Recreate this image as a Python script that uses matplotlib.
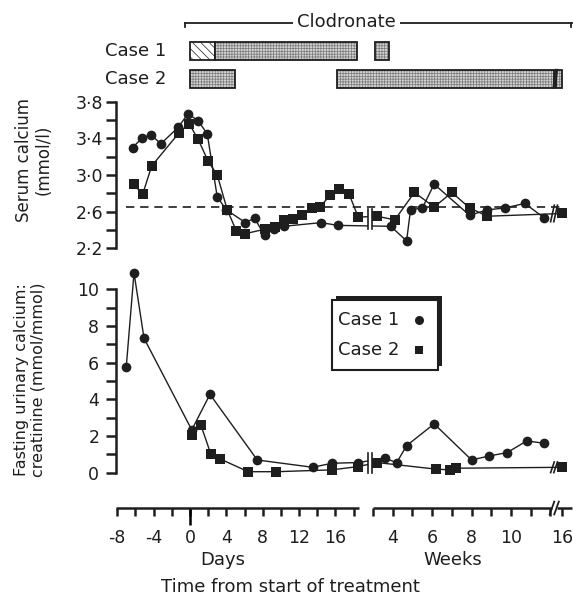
import matplotlib
matplotlib.use('Agg')
import matplotlib.pyplot as plt
from matplotlib.patches import Rectangle

plt.rcParams['font.family'] = 'DejaVu Sans'
plt.rcParams['hatch.linewidth'] = 0.5

W, H = 573, 599
ink = '#1e1e1e'

# serum calcium (mmol/l), case 1 = circles, case 2 = squares
c1_serum_days = [-6.3, -5.3, -4.3, -3.2, -1.3, -0.2, 0.9, 1.9, 3.0, 4.0, 6.1, 7.1, 8.2, 9.2, 10.3, 14.4, 16.3]
c1_serum_dval = [3.30, 3.40, 3.44, 3.34, 3.52, 3.67, 3.59, 3.45, 2.76, 2.62, 2.48, 2.53, 2.34, 2.41, 2.44, 2.48, 2.45]
c1_serum_weeks = [3.9, 4.7, 4.9, 5.5, 6.1, 7.9, 8.8, 9.7, 10.7, 11.7]
c1_serum_wval = [2.44, 2.28, 2.62, 2.64, 2.90, 2.56, 2.62, 2.64, 2.69, 2.53]
c2_serum_days = [-6.2, -5.2, -4.2, -1.2, -0.1, 0.9, 2.0, 3.0, 4.1, 5.1, 6.1, 8.3, 9.3, 10.3, 11.3,
                 12.3, 13.4, 14.3, 15.4, 16.4, 17.5, 18.5]
c2_serum_dval = [2.90, 2.79, 3.10, 3.46, 3.56, 3.39, 3.15, 3.00, 2.62, 2.39, 2.36, 2.41, 2.43, 2.51, 2.52,
                 2.56, 2.64, 2.65, 2.78, 2.85, 2.79, 2.54]
c2_serum_weeks = [3.2, 4.1, 5.1, 6.1, 7.0, 7.9, 8.8, 16]
c2_serum_wval = [2.55, 2.51, 2.81, 2.65, 2.81, 2.64, 2.55, 2.58]
serum_normal = 2.65

# fasting urinary calcium:creatinine (mmol/mmol)
c1_urine_days = [-7.0, -6.15, -5.05, 0.2, 2.2, 7.4, 13.5, 15.6, 18.5]
c1_urine_dval = [5.78, 10.9, 7.33, 2.33, 4.27, 0.69, 0.29, 0.51, 0.55]
c1_urine_weeks = [3.6, 4.2, 4.7, 6.1, 8.0, 8.9, 9.8, 10.8, 11.7]
c1_urine_wval = [0.78, 0.55, 1.47, 2.66, 0.69, 0.91, 1.09, 1.73, 1.60]
c2_urine_days = [0.2, 1.2, 2.3, 3.3, 6.4, 9.5, 15.6, 18.5]
c2_urine_dval = [2.06, 2.6, 1.0, 0.75, 0.05, 0.05, 0.15, 0.33]
c2_urine_weeks = [3.2, 6.2, 6.9, 7.2, 16]
c2_urine_wval = [0.55, 0.19, 0.15, 0.24, 0.29]

# clodronate treatment periods: (start, end) as ('d', days) or ('w', weeks)
case1_hatched = [(('d', 0), ('d', 2.7))]
case1_periods = [(('d', 2.7), ('d', 18.4)), (('w', 3.1), ('w', 3.8))]
case2_periods = [(('d', 0), ('d', 4.9)), (('d', 16.2), ('w', 12.2)), (('w', 15.7), ('w', 16.0))]

day_ticks = [-8, -6, -4, -2, 0, 2, 4, 6, 8, 10, 12, 14, 16, 18]
day_labels = ['-8', '', '-4', '', '0', '', '4', '', '8', '', '12', '', '16', '']
week_ticks = [3, 4, 5, 6, 7, 8, 9, 10, 11, 12, 16]
week_labels = ['', '4', '', '6', '', '8', '', '10', '', '', '16']


def wk(w):
    # weeks axis sits to the right of the days; 16 weeks is drawn just past the // break
    if w > 13:
        w = w - 3.4
    return 22.3 + (w - 4) * 2.165


def tpos(t):
    unit, v = t
    return v if unit == 'd' else wk(v)


def px_rect(left, top, right, bottom):
    return [left / W, 1 - bottom / H, (right - left) / W, (bottom - top) / H]


XLIM = (-8.13, 42.0)
fig = plt.figure(figsize=(W / 100, H / 100), dpi=100)

# ---------------- treatment bars ----------------
axb = fig.add_axes(px_rect(116, 8, 572, 95))
axb.set_xlim(*XLIM)
axb.set_ylim(-0.58, 2.53)
axb.axis('off')


def bar(row, a, b, hatch):
    x0, x1 = tpos(a), tpos(b)
    fc = 'white' if hatch.startswith('\\') else '#d2d2d2'
    hc = ink if hatch.startswith('\\') else '#7a7a7a'
    axb.add_patch(Rectangle((x0, row - 0.33), x1 - x0, 0.66, facecolor=fc, edgecolor=hc,
                            hatch=hatch, linewidth=0))
    axb.add_patch(Rectangle((x0, row - 0.33), x1 - x0, 0.66, fill=False, edgecolor=ink, linewidth=1.3))


for a, b in case1_hatched:
    bar(1, a, b, '\\\\\\\\')
for a, b in case1_periods:
    bar(1, a, b, '++++++')
for a, b in case2_periods:
    bar(0, a, b, '++++++')
# slanted break edges on case 2 bar
for xb in [wk(12.2), wk(15.7)]:
    axb.plot([xb - 0.12, xb + 0.12], [-0.33, 0.33], color=ink, lw=1.1)

axb.text(-2.6, 1, 'Case 1', ha='right', va='center', fontsize=13, color=ink)
axb.text(-2.6, 0, 'Case 2', ha='right', va='center', fontsize=13, color=ink)
axb.plot([-0.5, 42.0], [2, 2], color=ink, lw=1.3, clip_on=False)
axb.plot([-0.5, -0.5], [2, 1.86], color=ink, lw=1.3, clip_on=False)
axb.plot([41.9, 41.9], [2, 1.86], color=ink, lw=1.3, clip_on=False)
axb.text(17.2, 2.02, 'Clodronate', ha='center', va='center', fontsize=13, color=ink,
         bbox=dict(fc='white', ec='none', pad=3))

# ---------------- serum calcium ----------------
ax1 = fig.add_axes(px_rect(116, 101.7, 572, 248.3))
ax1.set_xlim(*XLIM)
ax1.set_ylim(2.2, 3.8)
for s in ['top', 'right', 'bottom']:
    ax1.spines[s].set_visible(False)
ax1.spines['left'].set_linewidth(1.8)
ax1.spines['left'].set_color(ink)
ax1.set_yticks([2.2, 2.4, 2.6, 2.8, 3.0, 3.2, 3.4, 3.6, 3.8])
ax1.set_yticklabels(['2·2', '', '2·6', '', '3·0', '', '3·4', '', '3·8'])
ax1.tick_params(axis='y', direction='out', length=7, width=1.8, pad=2, labelsize=12.5, colors=ink)
ax1.tick_params(axis='x', bottom=False, labelbottom=False)
ax1.axhline(serum_normal, xmin=0.022, xmax=0.98, color=ink, lw=1.2, ls=(0, (5, 3.5)), zorder=1)

x1 = c1_serum_days + [wk(w) for w in c1_serum_weeks]
x2 = c2_serum_days + [wk(w) for w in c2_serum_weeks]
ax1.plot(x1, c1_serum_dval + c1_serum_wval, color=ink, lw=1.0, marker='o', ms=7, mew=0,
         clip_on=False, zorder=3)
ax1.plot(x2, c2_serum_dval + c2_serum_wval, color=ink, lw=1.0, marker='s', ms=6.5, mew=0,
         clip_on=False, zorder=3)

# ---------------- urinary calcium ----------------
ax2 = fig.add_axes(px_rect(116, 289.3, 572, 508))
ax2.set_xlim(*XLIM)
ax2.set_ylim(-1.93, 10)
for s in ['top', 'right', 'bottom']:
    ax2.spines[s].set_visible(False)
ax2.spines['left'].set_bounds(0, 10)
ax2.spines['left'].set_linewidth(1.8)
ax2.spines['left'].set_color(ink)
ax2.set_yticks(list(range(0, 11)))
ax2.set_yticklabels(['0', '', '2', '', '4', '', '6', '', '8', '', '10'])
ax2.tick_params(axis='y', direction='out', length=7, width=1.8, pad=5, labelsize=12.5, colors=ink)

u1 = c1_urine_days + [wk(w) for w in c1_urine_weeks]
u2 = c2_urine_days + [wk(w) for w in c2_urine_weeks]
ax2.plot(u1, c1_urine_dval + c1_urine_wval, color=ink, lw=1.0, marker='o', ms=7, mew=0,
         clip_on=False, zorder=3)
ax2.plot(u2, c2_urine_dval + c2_urine_wval, color=ink, lw=1.0, marker='s', ms=6.5, mew=0,
         clip_on=False, zorder=3)

# x axis: days segment and weeks segment
xt = day_ticks + [wk(w) for w in week_ticks]
ax2.set_xticks(xt)
ax2.set_xticklabels(day_labels + week_labels)
ax2.set_xticks([0], minor=True)
ax2.xaxis.remove_overlapping_locs = False
ax2.tick_params(axis='x', which='major', direction='out', length=6, width=1.8, pad=9,
                labelsize=12.5, colors=ink)
ax2.tick_params(axis='x', which='minor', direction='out', length=12, width=1.8)
ybot = -1.93
ax2.plot([-8.1, 18.6], [ybot, ybot], color=ink, lw=1.8, clip_on=False, solid_capstyle='butt')
ax2.plot([wk(3), 39.8], [ybot, ybot], color=ink, lw=1.8, clip_on=False, solid_capstyle='butt')
ax2.plot([40.3, 42.0], [ybot, ybot], color=ink, lw=1.8, clip_on=False, solid_capstyle='butt')
for xb in [39.8, 40.3]:
    ax2.plot([xb - 0.25, xb + 0.25], [ybot - 0.35, ybot + 0.35], color=ink, lw=1.3, clip_on=False)

# break marks on the data lines
for ax, lo, hi in [(ax1, 2.41, 2.63), (ax2, 0.0, 1.07)]:
    ax.add_patch(Rectangle((19.6, lo), 0.4, hi - lo, fc='white', ec='none', zorder=4, clip_on=False))
    for xb in [19.6, 20.0]:
        ax.plot([xb, xb], [lo, hi], color=ink, lw=1.2, zorder=5, clip_on=False)
for ax, lo, hi in [(ax1, 2.49, 2.67), (ax2, 0.0, 0.58)]:
    for xb in [39.85, 40.2]:
        ax.plot([xb - 0.2, xb + 0.2], [lo, hi], color=ink, lw=1.2, zorder=5, clip_on=False)

# legend box with heavy shadow
axl = fig.add_axes(px_rect(330, 294, 444, 372))
axl.set_xlim(0, 1)
axl.set_ylim(0, 1)
axl.axis('off')
axl.add_patch(Rectangle((0.05, 0.077), 0.932, 0.897, fc=ink, ec='none'))
axl.add_patch(Rectangle((0.015, 0.026), 0.932, 0.897, fc='white', ec=ink, lw=1.5))
axl.text(0.07, 0.667, 'Case 1', ha='left', va='center', fontsize=13, color=ink)
axl.text(0.07, 0.282, 'Case 2', ha='left', va='center', fontsize=13, color=ink)
axl.plot([0.78], [0.667], marker='o', ms=6.5, mew=0, color=ink)
axl.plot([0.78], [0.282], marker='s', ms=6, mew=0, color=ink)

# axis titles
fig.text(34 / W, 1 - 160 / H, 'Serum calcium\n(mmol/l)', rotation=90, ha='center', va='center',
         fontsize=12, color=ink, linespacing=1.15)
fig.text(30 / W, 1 - 380 / H, 'Fasting urinary calcium:\ncreatinine (mmol/mmol)', rotation=90,
         ha='center', va='center', fontsize=11.5, color=ink, linespacing=1.15)
fig.text(223 / W, 1 - 560 / H, 'Days', ha='center', va='center', fontsize=13, color=ink)
fig.text(453 / W, 1 - 560 / H, 'Weeks', ha='center', va='center', fontsize=13, color=ink)
fig.text(290 / W, 1 - 587 / H, 'Time from start of treatment', ha='center', va='center',
         fontsize=13, color=ink)

fig.savefig('out.png', dpi=100, facecolor='white')
